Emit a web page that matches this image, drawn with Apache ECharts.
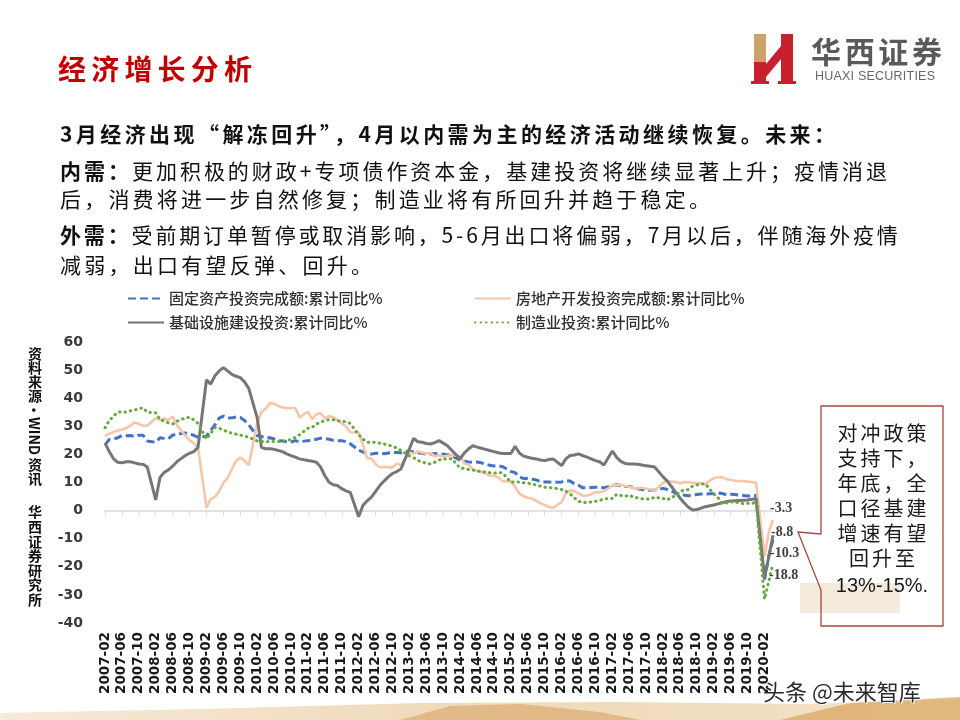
<!DOCTYPE html>
<html><head><meta charset="utf-8">
<script src="https://cdn.jsdelivr.net/npm/echarts@6/dist/echarts.min.js"></script>
<style>
html,body{margin:0;padding:0;background:#fff;}
#wrap{position:relative;width:960px;height:720px;overflow:hidden;background:#fff;}
#chart{position:absolute;left:0;top:0;width:960px;height:720px;}
.t{position:absolute;white-space:nowrap;font-family:"Noto Sans CJK SC",sans-serif;color:#111;z-index:2;}
.body{font-size:21px;line-height:26px;height:26px;}
.b{font-weight:700;}
#src{position:absolute;left:27px;writing-mode:vertical-rl;text-orientation:mixed;font-family:"Noto Sans CJK SC",sans-serif;font-weight:700;font-size:14px;line-height:16px;color:#111;z-index:2;white-space:nowrap;}
#call{position:absolute;left:821px;top:420px;width:122px;z-index:3;text-align:center;font-family:"Noto Sans CJK SC",sans-serif;font-size:20px;line-height:25px;color:#1a1a1a;}
#call div{letter-spacing:3px;padding-left:3px;}
</style></head><body>
<div id="wrap">
<div id="chart"></div>
<div class="t fit" data-w="194" style="left:58px;top:50px;font-size:28px;line-height:36px;font-weight:700;color:#c00000;">经济增长分析</div>
<div class="t fit" data-w="131" style="left:811px;top:31px;font-size:30px;line-height:38px;font-weight:700;color:#5a5a5a;">华西证券</div>
<div class="t fit" data-w="120" style="left:815px;top:69px;font-size:12.5px;line-height:15px;color:#666;font-family:'Liberation Sans Narrow','Liberation Sans',sans-serif;">HUAXI SECURITIES</div>

<div class="t body b fit" data-w="775" style="left:60px;top:120px;">3月经济出现“解冻回升”，4月以内需为主的经济活动继续恢复。未来：</div>
<div class="t body fit" data-w="827" style="left:60px;top:157px;"><span class="b">内需：</span>更加积极的财政+专项债作资本金，基建投资将继续显著上升；疫情消退</div>
<div class="t body fit" data-w="650" style="left:60px;top:185px;">后，消费将进一步自然修复；制造业将有所回升并趋于稳定。</div>
<div class="t body fit" data-w="838" style="left:60px;top:221px;"><span class="b">外需：</span>受前期订单暂停或取消影响，5-6月出口将偏弱，7月以后，伴随海外疫情</div>
<div class="t body fit" data-w="312" style="left:60px;top:251px;">减弱，出口有望反弹、回升。</div>

<div id="src" style="top:347px;">资料来源·WIND 资讯</div>
<div id="src2" style="position:absolute;left:27px;top:505px;writing-mode:vertical-rl;font-family:'Noto Sans CJK SC',sans-serif;font-weight:700;font-size:14px;line-height:16px;letter-spacing:0.6px;color:#111;z-index:2;">华西证券研究所</div>

<div id="call">
<div>对冲政策</div><div>支持下，</div><div>年底，全</div><div>口径基建</div><div>增速有望</div><div>回升至</div>
<div style="letter-spacing:0;padding-left:0;font-family:'Liberation Sans',Arial,sans-serif;margin-top:3px;">13%-15%.</div>
</div>

<div class="t" style="left:763px;top:675px;font-size:22px;line-height:30px;color:#2b2b2b;text-shadow:1px 1px 0 #fff,-1px 0 0 #fff;">头条 @未来智库</div>
</div>
<script>
// ---------- data (cumulative YoY %, Feb..Dec each year; January not published) ----------
const seriesNames = ['固定资产投资完成额:累计同比%','房地产开发投资完成额:累计同比%','基础设施建设投资:累计同比%','制造业投资:累计同比%'];
const endLabels = ['-10.3','-3.3','-8.8','-18.8'];

const faiValues = [
 23.4,25.3,25.5,25.9,26.7,26.6,26.7,26.4,26.8,26.8,24.8,
 24.3,25.9,25.7,25.6,26.8,27.3,27.4,27.6,27.2,26.8,26.1,
 26.5,28.6,30.5,32.9,33.6,32.9,33.0,33.3,33.1,32.1,30.5,
 26.6,26.4,25.8,25.9,25.5,24.9,24.8,24.5,24.4,24.9,24.5,
 24.9,25.0,25.4,25.8,25.6,25.4,25.0,24.9,24.9,24.5,23.8,
 21.5,20.9,20.2,20.1,20.4,20.4,20.2,20.5,20.7,20.7,20.6,
 21.2,20.9,20.6,20.4,20.1,20.1,20.3,20.2,20.1,19.9,19.6,
 17.9,17.6,17.3,17.2,17.3,17.0,16.5,16.1,15.9,15.8,15.7,
 13.9,13.5,12.0,11.4,11.4,11.2,10.9,10.3,10.2,10.2,10.0,
 10.2,10.7,10.5,9.6,9.0,8.1,8.1,8.2,8.3,8.3,8.1,
 8.9,9.2,8.9,8.6,8.6,8.3,7.8,7.5,7.3,7.2,7.2,
 7.9,7.5,7.0,6.1,6.0,5.5,5.3,5.4,5.7,5.9,5.9,
 6.1,6.3,6.1,5.6,5.8,5.7,5.5,5.4,5.2,5.2,5.4,
 -24.5,-16.1,-10.3];

const realEstateValues = [
 26.5,27.3,28.0,28.5,28.8,29.3,30.2,31.4,30.8,30.2,30.2,
 32.9,32.2,32.8,32.2,33.5,30.5,28.5,26.7,25.0,24.0,22.5,
 1.0,4.1,4.9,6.8,9.9,11.6,14.7,17.7,18.9,17.8,16.1,
 31.1,35.1,36.2,38.2,38.1,37.2,36.7,36.4,36.5,36.5,33.2,
 35.2,32.5,34.3,34.6,32.9,33.6,33.2,32.0,31.1,29.9,27.9,
 27.8,23.5,18.7,18.5,16.6,15.4,15.6,15.4,15.4,16.7,16.2,
 20.8,20.2,21.1,20.6,20.3,20.5,19.3,19.7,19.2,19.5,19.8,
 19.3,16.8,16.4,14.7,14.1,13.7,13.2,12.5,12.4,11.9,10.5,
 10.4,8.5,6.0,5.1,4.6,4.3,3.5,2.6,2.0,1.3,1.0,
 3.0,6.2,7.2,7.0,6.1,5.3,5.4,5.8,6.6,6.5,6.9,
 8.9,9.1,9.3,8.8,8.5,7.9,7.9,8.1,7.8,7.5,7.0,
 9.9,10.4,10.3,10.2,9.7,10.2,10.1,9.9,9.7,9.7,9.5,
 11.6,11.8,11.9,11.2,10.9,10.6,10.5,10.5,10.3,10.2,9.9,
 -16.3,-7.7,-3.3];

const infraValues = [
 24.0,21.0,18.5,17.2,17.0,17.4,17.4,17.0,16.6,16.5,15.5,
 3.8,11.8,13.6,14.5,15.8,17.4,18.5,19.6,20.4,21.0,22.5,
 46.5,45.0,48.0,49.7,50.9,49.7,48.5,47.8,47.3,45.8,43.5,
 33.0,22.5,22.0,22.0,21.8,21.4,21.0,20.2,19.6,19.0,18.4,
 17.8,17.6,17.2,15.5,12.4,10.1,9.2,8.9,7.8,7.0,6.5,
 -2.2,1.8,3.5,4.8,6.8,8.9,10.5,12.0,13.2,13.9,14.8,
 22.0,25.7,24.5,24.3,23.9,23.7,24.2,24.9,24.0,23.1,21.5,
 18.4,20.5,22.0,23.1,22.6,22.2,21.8,21.4,21.0,20.6,20.3,
 20.3,22.9,20.5,19.4,19.0,18.6,18.4,18.0,17.8,18.2,18.4,
 16.0,18.4,19.6,19.8,20.2,19.6,19.0,18.4,17.8,17.4,16.2,
 21.2,19.0,17.5,16.8,16.6,16.6,16.5,16.2,16.0,15.8,15.5,
 12.0,10.5,8.5,6.5,4.5,2.7,1.2,0.2,0.4,0.9,1.4,
 2.0,2.4,2.8,3.2,3.4,3.5,3.6,3.7,3.8,4.0,4.2,
 -24.0,-16.5,-8.8];

const manufacturingValues = [
 29.5,32.0,33.6,35.0,35.2,35.0,35.5,35.8,36.2,36.6,35.0,
 34.8,32.4,31.8,31.2,30.8,31.8,32.4,33.0,33.2,32.3,31.0,
 25.5,27.5,29.6,29.3,28.6,28.1,27.5,27.2,26.9,26.5,26.1,
 24.8,24.6,24.5,24.6,24.6,24.6,24.7,24.9,25.3,26.0,27.0,
 29.3,29.6,30.8,31.5,32.0,32.4,32.3,32.0,31.8,31.6,31.0,
 27.0,25.5,24.3,24.3,24.3,24.0,23.7,23.3,22.9,22.3,21.4,
 19.5,18.8,17.8,17.3,16.8,16.6,17.2,18.0,18.4,18.4,18.5,
 15.1,15.0,14.6,14.4,14.3,13.7,13.8,13.5,13.4,13.4,13.5,
 10.1,10.3,10.1,9.9,9.8,9.4,9.1,8.7,8.3,8.2,8.1,
 7.5,6.9,6.0,4.6,3.3,3.0,2.8,3.1,3.3,3.6,4.2,
 4.3,5.8,5.4,5.1,5.5,4.8,4.5,4.2,4.1,4.1,4.8,
 4.3,3.8,4.8,5.2,6.8,7.3,7.5,8.7,9.1,9.5,9.5,
 5.9,4.6,2.5,2.7,3.0,3.3,2.6,2.5,2.6,2.5,3.1,
 -31.5,-25.2,-18.8];

const yTicks = {min:-40, max:60, interval:10};
const firstMonth = {y:2007, m:2};
const lastMonth = {y:2020, m:4};

// ---------- build month categories and series ----------
const categories = [];
for (let y = firstMonth.y; y <= lastMonth.y; y++) {
  for (let m = 1; m <= 12; m++) {
    if (y === firstMonth.y && m < firstMonth.m) continue;
    if (y === lastMonth.y && m > lastMonth.m) break;
    categories.push(y + '-' + (m < 10 ? '0' + m : '' + m));
  }
}
function toMonthly(vals) {
  let k = 0;
  return categories.map(c => c.endsWith('-01') ? null : vals[k++]);
}

const styles = [
  {color:'#4472C4', width:3, type:[8,4], cap:'butt', off:[-3,14]},
  {color:'#F6C6AA', width:2.6, type:'solid', cap:'butt', off:[-3,-11]},
  {color:'#767676', width:3, type:'solid', cap:'butt', off:[-2,-3]},
  {color:'#69A83F', width:3, type:[0.5,5], cap:'round', off:[-4,12]}
];
const valueSets = [faiValues, realEstateValues, infraValues, manufacturingValues];

const series = seriesNames.map((name, i) => ({
  name, type:'line', data: toMonthly(valueSets[i]), xAxisIndex:0,
  symbol:'none', showSymbol:false, connectNulls:true, smooth:false,
  lineStyle:{color:styles[i].color, width:styles[i].width, type:styles[i].type, cap:styles[i].cap},
  itemStyle:{color:styles[i].color},
  emphasis:{disabled:true},
  endLabel:{show:true, distance:0, offset:styles[i].off,
    formatter:() => endLabels[i],
    fontFamily:'Liberation Serif', fontWeight:'bold', fontSize:14, color:'#404040'}
}));

const chart = echarts.init(document.getElementById('chart'), null, {renderer:'canvas'});
const legendText = {fontSize:15, lineHeight:15, color:'#303030', fontWeight:500, fontFamily:'Noto Sans CJK SC'};
const legendCommon = {orient:'vertical', top:286, itemWidth:36, itemHeight:14, itemGap:9, textStyle:legendText, selectedMode:false,
  itemStyle:{opacity:0, borderWidth:0}};
chart.setOption({
  animation:false,
  backgroundColor:'transparent',
  grid:{left:105, right:187, top:342, bottom:97, containLabel:false},
  legend:[
    Object.assign({data:[seriesNames[0], seriesNames[2]], left:122}, legendCommon),
    Object.assign({data:[seriesNames[1], seriesNames[3]], left:469}, legendCommon)
  ],
  xAxis:[
    {type:'category', data:categories, boundaryGap:false, position:'bottom',
     axisLine:{show:false, onZero:false}, axisTick:{show:false}, splitLine:{show:false},
     axisLabel:{interval:3, rotate:90, margin:9, fontFamily:'DejaVu Sans', fontWeight:'bold', fontSize:13.5, color:'#1a1a1a'}},
    {type:'category', data:categories, boundaryGap:false, position:'top',
     axisLine:{show:true, onZero:true, lineStyle:{color:'#d9d9d9', width:1.5}},
     axisTick:{show:true, interval:3, inside:true, length:5, lineStyle:{color:'#d9d9d9', width:1}},
     axisLabel:{show:false}, splitLine:{show:false}}
  ],
  yAxis:{type:'value', min:yTicks.min, max:yTicks.max, interval:yTicks.interval,
    axisLine:{show:false}, axisTick:{show:false}, splitLine:{show:false},
    axisLabel:{margin:22, fontFamily:'DejaVu Sans', fontWeight:'bold', fontSize:14, color:'#3a3a3a'}},
  series,
  graphic:[
    // bottom decorative band
    {type:'polygon', z:-1, shape:{points:[[0,720],[0,713],[200,709],[420,703],[620,702],[800,704],[960,700],[960,720]]},
     style:{fill:{type:'linear',x:0,y:0,x2:1,y2:0,colorStops:[{offset:0,color:'#f6ead8'},{offset:0.5,color:'#efd9b8'},{offset:1,color:'#f3e2c8'}]}}},
    {type:'polygon', z:-1, shape:{points:[[400,720],[450,706],[520,704],[600,712],[640,720]]}, style:{fill:'#deb27a', opacity:0.8}},
    {type:'polygon', z:-1, shape:{points:[[780,720],[850,703],[960,697],[960,720]]}, style:{fill:'#d9a866', opacity:0.75}},
    // beige patch behind callout
    {type:'rect', z:-1, shape:{x:800, y:583, width:100, height:30}, style:{fill:'#f5ebdc'}},
    // callout box
    {type:'polygon', z:50, shape:{points:[[821,406],[943,406],[943,626],[821,626],[821,590],[798,532],[821,534]]},
     style:{fill:'none', stroke:'#a04a3c', lineWidth:1.3}},
    // logo
    {type:'rect', z:50, shape:{x:754, y:34, width:12, height:28}, style:{fill:'#c9a36b'}},
    {type:'rect', z:50, shape:{x:754, y:62, width:12, height:21}, style:{fill:'#c8202f'}},
    {type:'polygon', z:50, shape:{points:[[766,64],[781,46],[781,59],[766,77]]}, style:{fill:'#c8202f'}},
    {type:'rect', z:50, shape:{x:781, y:34, width:12, height:49}, style:{fill:'#c8202f'}},
    {type:'rect', z:50, shape:{x:751, y:81, width:18, height:3}, style:{fill:'#c8202f'}},
    {type:'rect', z:50, shape:{x:778, y:81, width:18, height:3}, style:{fill:'#c8202f'}}
  ]
});

function fit() {
  document.querySelectorAll('.fit').forEach(el => {
    el.style.letterSpacing = '0px';
    const w = el.getBoundingClientRect().width;
    const n = Array.from(el.textContent).length;
    const target = +el.dataset.w;
    if (n > 1) el.style.letterSpacing = ((target - w) / (n - 1)).toFixed(2) + 'px';
  });
}
fit();
if (document.fonts && document.fonts.ready) document.fonts.ready.then(fit);
</script>
</body></html>
